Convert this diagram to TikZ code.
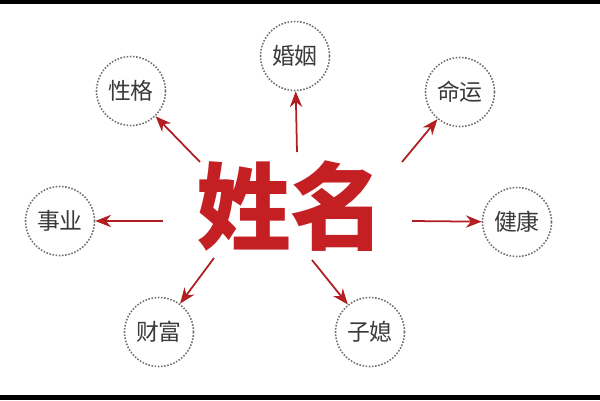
\documentclass[tikz,border=0pt]{standalone}
\usepackage{fontspec}
\setmainfont{Noto Sans CJK SC}
\usetikzlibrary{arrows.meta}
\definecolor{namered}{HTML}{C42024}
\definecolor{arrowred}{HTML}{B01E22}
\definecolor{textgray}{HTML}{3A3A3A}
\definecolor{dotgray}{HTML}{707070}
\begin{document}
\begin{tikzpicture}[x=0.02cm,y=-0.02cm,
  topic/.style={circle,draw=dotgray,line width=0.9pt,dash pattern=on 0.9pt off 0.9pt,minimum size=1.38cm,inner sep=0pt,text=textgray,font=\fontsize{13}{13}\selectfont},
  arr/.style={draw=arrowred,line width=1pt,-{Stealth[length=9pt,width=7pt,fill=namered]}}]
\useasboundingbox (0,0) rectangle (600,400);
\fill[black] (0,0) rectangle (600,4);
\fill[black] (0,395) rectangle (600,400);
\node[text=namered,font=\fontsize{54}{54}\selectfont\bfseries] (name) at (291,206) {姓名};
\node[topic] (xingge) at (131,91) {性格};
\node[topic] (hunyin) at (295,56) {婚姻};
\node[topic] (mingyun) at (460,92) {命运};
\node[topic] (shiye) at (60,221) {事业};
\node[topic] (jiankang) at (517,222) {健康};
\node[topic] (caifu) at (159,332) {财富};
\node[topic] (zixi) at (370,332) {子媳};
\coordinate (t1) at (200,162);
\coordinate (t2) at (297,152);
\coordinate (t3) at (402,162);
\coordinate (t4) at (163,221);
\coordinate (t5) at (412,221);
\coordinate (t6) at (214,258);
\coordinate (t7) at (312,260);
\draw[arr] (t1) -- (xingge);
\draw[arr] (t2) -- (hunyin);
\draw[arr] (t3) -- (mingyun);
\draw[arr] (t4) -- (shiye);
\draw[arr] (t5) -- (jiankang);
\draw[arr] (t6) -- (caifu);
\draw[arr] (t7) -- (zixi);
\end{tikzpicture}
\end{document}
